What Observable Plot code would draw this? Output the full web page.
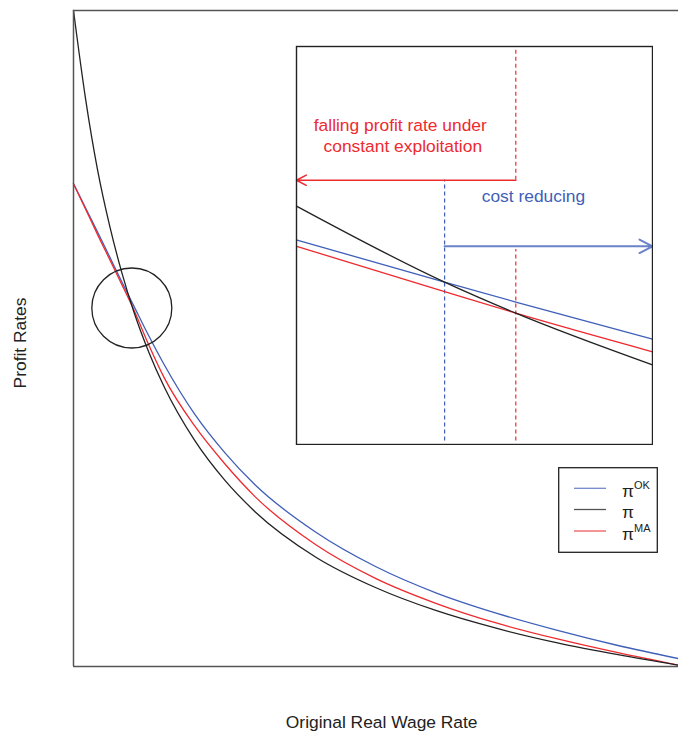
<!DOCTYPE html>
<html>
<head>
<meta charset="utf-8">
<script src="https://cdn.jsdelivr.net/npm/d3@7"></script>
<script src="https://cdn.jsdelivr.net/npm/@observablehq/plot@0.6"></script>
<style>
  html, body { margin: 0; padding: 0; background: white; overflow: hidden; }
  #wrap { position: relative; width: 678px; height: 733px; font-family: "Liberation Sans", Arial, sans-serif; }
  #main, #inset, #legend { position: absolute; }
  #main { left: 0; top: 0; }
  #inset { left: 295px; top: 45px; }
  #legend { left: 558px; top: 467px; }
</style>
</head>
<body>
<div id="wrap"><div id="main"></div><div id="inset"></div><div id="legend"></div></div>
<script>
// ---- Main chart data (wage in relative units 0..1, profit rate in relative units 0..1)
const wage     = [0, 0.02, 0.04, 0.06, 0.08, 0.1, 0.125, 0.15, 0.2, 0.25, 0.3, 0.4, 0.5, 0.6, 0.7, 0.8, 0.9, 1.0];
const valuesPi = [1.0, 0.865, 0.756, 0.671, 0.600, 0.540, 0.478, 0.426, 0.345, 0.284, 0.236, 0.167, 0.120, 0.085, 0.058, 0.036, 0.018, 0.002];
const valuesOK = [0.736, 0.699, 0.662, 0.624, 0.586, 0.549, 0.503, 0.460, 0.385, 0.326, 0.277, 0.205, 0.152, 0.112, 0.081, 0.055, 0.032, 0.012];
const valuesMA = [0.736, 0.697, 0.658, 0.620, 0.582, 0.543, 0.489, 0.440, 0.367, 0.309, 0.259, 0.186, 0.134, 0.096, 0.066, 0.042, 0.021, 0.002];

const circleCenter = [{x: 0.0964, y: 0.5465}];

// ---- Inset (zoom of the circled region), relative units 0..1
const insetX     = [0, 0.416, 0.616, 1];
const insetPi    = [0.599, 0.408, 0.330, 0.200];
const insetPiOK  = [0.514, 0.408, 0.358, 0.265];
const insetPiMA  = [0.498, 0.384, 0.330, 0.233];
const wageOKSwitch = 0.416;   // where π^OK meets π
const wageMASwitch = 0.616;   // where π^MA meets π
const redArrowLevel = 0.664;
const blueArrowLevel = 0.498;
const insetTexts = [
  {x: 0.2915, y: 0.8005, text: "falling profit rate under", color: "#ee2a2f"},
  {x: 0.2986, y: 0.7494, text: "constant exploitation", color: "#ee2a2f"},
  {x: 0.6656, y: 0.6242, text: "cost reducing", color: "#3f5fb8"}
];

// ---- Legend
const legendLabels = ["π", "π", "π"];
const legendSups = ["OK", "", "MA"];
const legendColors = ["#7388cc", "#555555", "#f05a5a"];

const BLUE = "#3f5fb8", RED = "#ee2a2f", BLACK = "#222222";
const FONT = "'Liberation Sans', Arial, sans-serif";

const zip = (xs, ys) => xs.map((x, i) => ({x, y: ys[i]}));

const main = Plot.plot({
  width: 678,
  height: 733,
  marginLeft: 73,
  marginRight: 0,
  marginTop: 10,
  marginBottom: 67,
  x: {domain: [0, 1], axis: null},
  y: {domain: [0, 1], axis: null},
  style: {fontFamily: FONT, fontSize: "17.4px", background: "white", color: "#222"},
  marks: [
    Plot.line(zip(wage, valuesOK), {x: "x", y: "y", stroke: BLUE, strokeWidth: 1.3, curve: "monotone-x"}),
    Plot.line(zip(wage, valuesMA), {x: "x", y: "y", stroke: RED, strokeWidth: 1.3, curve: "monotone-x"}),
    Plot.line(zip(wage, valuesPi), {x: "x", y: "y", stroke: BLACK, strokeWidth: 1.3, curve: "monotone-x"}),
    Plot.dot(circleCenter, {x: "x", y: "y", r: 40, stroke: BLACK, fill: "none", strokeWidth: 1.3}),
    Plot.ruleX([0], {stroke: "#555", strokeWidth: 1.5}),
    Plot.ruleY([0, 1], {stroke: "#555", strokeWidth: 1.5}),
    Plot.text(["Original Real Wage Rate"], {frameAnchor: "bottom", text: d => d, textAnchor: "middle", lineAnchor: "middle", dy: 55.7, dx: 5.7, fill: "#222", fontSize: 17.4}),
    Plot.text(["Profit Rates"], {frameAnchor: "left", text: d => d, textAnchor: "middle", lineAnchor: "middle", rotate: -90, dx: -53, dy: 4.5, fill: "#222", fontSize: 17.4})
  ]
});
document.getElementById("main").appendChild(main);

const inset = Plot.plot({
  width: 358,
  height: 400,
  marginLeft: 1, marginRight: 1, marginTop: 1, marginBottom: 1,
  x: {domain: [0, 1], axis: null},
  y: {domain: [0, 1], axis: null},
  style: {fontFamily: FONT, fontSize: "17.4px", background: "white"},
  marks: [
    Plot.ruleX([wageOKSwitch], {y1: 0.009, y2: redArrowLevel, stroke: BLUE, strokeWidth: 1.2, strokeDasharray: "4,3"}),
    Plot.ruleX([wageMASwitch], {y1: redArrowLevel, y2: 1, stroke: RED, strokeWidth: 1.2, strokeDasharray: "4,3"}),
    Plot.ruleX([wageMASwitch], {y1: 0.009, y2: 0.490, stroke: RED, strokeWidth: 1.2, strokeDasharray: "4,3"}),
    Plot.line(zip(insetX, insetPiOK), {x: "x", y: "y", stroke: BLUE, strokeWidth: 1.3, curve: "monotone-x"}),
    Plot.line(zip(insetX, insetPiMA), {x: "x", y: "y", stroke: RED, strokeWidth: 1.3, curve: "monotone-x"}),
    Plot.line(zip(insetX, insetPi), {x: "x", y: "y", stroke: BLACK, strokeWidth: 1.3, curve: "monotone-x"}),
    Plot.arrow([{x1: wageMASwitch, x2: 0, y: redArrowLevel}], {x1: "x1", x2: "x2", y1: "y", y2: "y", stroke: RED, strokeWidth: 1.5, headLength: 11, headAngle: 55, bend: 0}),
    Plot.arrow([{x1: wageOKSwitch, x2: 1, y: blueArrowLevel}], {x1: "x1", x2: "x2", y1: "y", y2: "y", stroke: "#6a82c8", strokeWidth: 2, headLength: 11, headAngle: 55, bend: 0}),
    Plot.text(insetTexts, {x: "x", y: "y", text: "text", fill: "color", fontSize: 17.4}),
    Plot.frame({stroke: BLACK, strokeWidth: 1.4})
  ]
});
document.getElementById("inset").appendChild(inset);

// Legend
const lg = d3.select("#legend").append("svg").attr("width", 100).attr("height", 86)
  .style("font-family", FONT);
lg.append("rect").attr("x", 0.7).attr("y", 0.7).attr("width", 98.6).attr("height", 84.6)
  .attr("fill", "white").attr("stroke", "#222").attr("stroke-width", 1.3);
const rowY = [21.3, 42.5, 64];
legendLabels.forEach((lab, i) => {
  lg.append("line").attr("x1", 16).attr("x2", 48).attr("y1", rowY[i]).attr("y2", rowY[i])
    .attr("stroke", legendColors[i]).attr("stroke-width", 1.3);
  const t = lg.append("text").attr("x", 64).attr("y", rowY[i] + 8.5).attr("fill", "#222").attr("font-size", 17.4);
  t.append("tspan").text(lab);
  if (legendSups[i]) t.append("tspan").attr("dy", -7.7).attr("font-size", 11).text(legendSups[i]);
});
</script>
</body>
</html>
